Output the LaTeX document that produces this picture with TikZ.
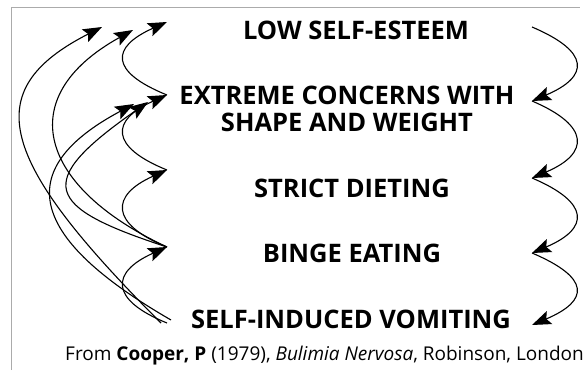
\documentclass[tikz,border=0pt]{standalone}
\usepackage{fontspec}
\setmainfont{Open Sans}
\usetikzlibrary{arrows.meta}

\tikzset{
  stage/.style={font=\fontsize{25.5}{27}\selectfont\bfseries, inner sep=0pt, align=center},
  credit/.style={font=\fontsize{19}{22}\selectfont, inner sep=0pt},
  link/.style={line width=1.1pt, -{Stealth[length=19pt,width=14pt,inset=3.5pt]}},
  rwave/.style={out=-23,in=23,out distance=63pt,in distance=63pt},
  lwave/.style={out=158,in=204,out distance=62pt,in distance=62pt},
}

\begin{document}
\begin{tikzpicture}[x=1pt,y=1pt]
\useasboundingbox (0,0) rectangle (588,370);
% frame
\draw[black!33,line width=1.5pt] (11.5,0) -- (11.5,362.5) -- (580,362.5);
% stages
\node[stage,anchor=base] (low) at (356,330.5) {LOW SELF-ESTEEM};
\node[stage] (shape) at (347,261.5) {EXTREME CONCERNS WITH\\SHAPE AND WEIGHT};
\node[stage,anchor=base] (diet) at (352,173) {STRICT DIETING};
\node[stage,anchor=base] (binge) at (352,108) {BINGE EATING};
\node[stage,anchor=base] (vomit) at (351,42) {SELF-INDUCED VOMITING};
\node[credit,anchor=base east] (ref) at (584,10)
  {From \textbf{Cooper, P} (1979), \textit{Bulimia Nervosa}, Robinson, London};
% end points of the arrows, left and right of each stage
\foreach \n/\yl/\yr in {low/348/343,shape/275/269,diet/200/192,binge/123/117,vomit/47/45}{
  \coordinate (\n-l) at (167,\yl);
  \coordinate (\n-r) at (532,\yr);
}
\coordinate (low-t1) at (102,343);
\coordinate (low-t2) at (133,340);
\coordinate (shape-t1) at (134,266);
\coordinate (shape-t2) at (148,268);
% downward chain on the right
\foreach \a/\b in {low/shape,shape/diet,diet/binge,binge/vomit}
  \draw[link] (\a-r) to[rwave] (\b-r);
% upward chain on the left
\foreach \a/\b in {shape/low,diet/shape,binge/diet,vomit/binge}
  \draw[link] (\a-l) to[lwave] (\b-l);
% long feedback arrows
\draw[link] ([xshift=-6pt]vomit-l) to[out=135,in=207,out distance=230pt,in distance=140pt] (low-t1);
\draw[link] (binge-l) to[out=155,in=209,out distance=140pt,in distance=140pt] (low-t2);
\draw[link] ([xshift=4pt,yshift=3pt]vomit-l) to[out=150,in=208,out distance=150pt,in distance=150pt] (shape-t1);
\draw[link] (binge-l) to[out=162,in=215,out distance=130pt,in distance=140pt] (shape-t2);
\end{tikzpicture}
\end{document}
